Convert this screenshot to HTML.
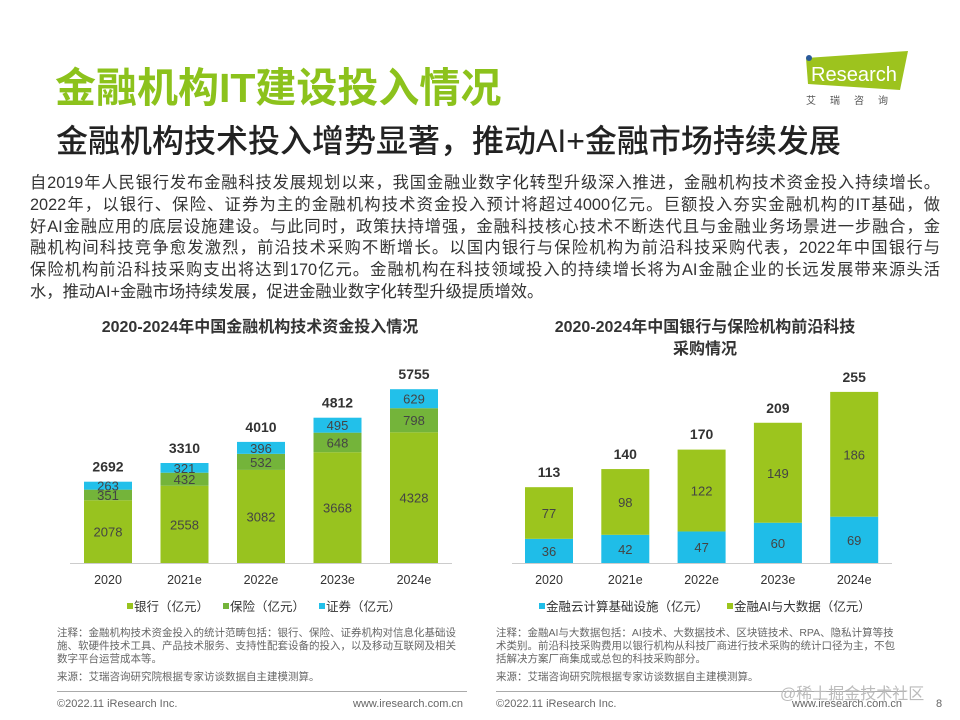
<!DOCTYPE html>
<html><head><meta charset="utf-8">
<style>
body{margin:0;width:960px;height:720px;background:#fff;font-family:"Liberation Sans","Noto Sans CJK SC",sans-serif;position:relative;overflow:hidden;color:#333}
.abs{position:absolute}
.p{left:30px;width:910px;font-size:16.3px;line-height:21.8px;color:#333}
.p div{text-align:justify;text-align-last:justify;height:21.8px;white-space:nowrap}
.p div.last{text-align-last:left}
.ct{font-weight:bold;font-size:16px;color:#333;text-align:center;line-height:22px}
.note{font-size:10.5px;color:#666;line-height:13px}
.foot{font-size:11px;color:#666}
</style></head><body>
<div class="abs" style="left:55px;top:54px;font-size:41px;color:#8cc21c;font-weight:bold">金融机构IT建设投入情况</div>
<div class="abs" style="left:56px;top:116px;font-size:32px;color:#222;font-weight:500">金融机构技术投入增势显著，推动AI+金融市场持续发展</div>
<svg class="abs" style="left:790px;top:48px" width="130" height="60">
<polygon points="16,10 118,3 110,42 18,36" fill="#9dc31e"/>
<circle cx="19" cy="10" r="3" fill="#2a5a9a"/>
<text x="21" y="33" font-size="20" fill="#fff" font-family="Liberation Sans" textLength="86" lengthAdjust="spacingAndGlyphs">Research</text>
<text x="16" y="56" font-size="10" fill="#555" letter-spacing="14" font-family="Noto Sans CJK SC">艾瑞咨询</text>
</svg>
<div class="abs p" style="top:173px">
<div>自2019年人民银行发布金融科技发展规划以来，我国金融业数字化转型升级深入推进，金融机构技术资金投入持续增长。</div>
<div>2022年，以银行、保险、证券为主的金融机构技术资金投入预计将超过4000亿元。巨额投入夯实金融机构的IT基础，做</div>
<div>好AI金融应用的底层设施建设。与此同时，政策扶持增强，金融科技核心技术不断迭代且与金融业务场景进一步融合，金</div>
<div>融机构间科技竞争愈发激烈，前沿技术采购不断增长。以国内银行与保险机构为前沿科技采购代表，2022年中国银行与</div>
<div>保险机构前沿科技采购支出将达到170亿元。金融机构在科技领域投入的持续增长将为AI金融企业的长远发展带来源头活</div>
<div class="last">水，推动AI+金融市场持续发展，促进金融业数字化转型升级提质增效。</div>
</div>
<div class="abs ct" style="left:40px;width:440px;top:317px">2020-2024年中国金融机构技术资金投入情况</div>
<div class="abs ct" style="left:490px;width:430px;top:317px">2020-2024年中国银行与保险机构前沿科技<br>采购情况</div>
<svg id="chart" class="abs" style="left:0;top:0" width="960" height="720"></svg>
<div class="abs note" style="left:57px;top:627px;width:408px">注释：金融机构技术资金投入的统计范畴包括：银行、保险、证券机构对信息化基础设施、软硬件技术工具、产品技术服务、支持性配套设备的投入，以及移动互联网及相关数字平台运营成本等。<div style="margin-top:5px">来源：艾瑞咨询研究院根据专家访谈数据自主建模测算。</div></div>
<div class="abs note" style="left:496px;top:627px;width:408px">注释：金融AI与大数据包括：AI技术、大数据技术、区块链技术、RPA、隐私计算等技术类别。前沿科技采购费用以银行机构从科技厂商进行技术采购的统计口径为主，不包括解决方案厂商集成或总包的科技采购部分。<div style="margin-top:5px">来源：艾瑞咨询研究院根据专家访谈数据自主建模测算。</div></div>
<div class="abs" style="left:57px;top:691px;width:410px;height:1px;background:#aaa"></div>
<div class="abs" style="left:496px;top:691px;width:410px;height:1px;background:#aaa"></div>
<div class="abs foot" style="left:57px;top:698px">©2022.11 iResearch Inc.</div>
<div class="abs foot" style="left:353px;top:698px">www.iresearch.com.cn</div>
<div class="abs foot" style="left:496px;top:698px">©2022.11 iResearch Inc.</div>
<div class="abs foot" style="left:792px;top:698px">www.iresearch.com.cn</div>
<div class="abs foot" style="left:936px;top:698px">8</div>
<div class="abs" style="left:780px;top:680px;font-size:16px;color:#bbb">@稀土掘金技术社区</div>
<script>
const years=["2020","2021e","2022e","2023e","2024e"];
const bank=[2078,2558,3082,3668,4328];
const insurance=[351,432,532,648,798];
const securities=[263,321,396,495,629];
const totalsL=[2692,3310,4010,4812,5755];
const cloud=[36,42,47,60,69];
const aiData=[77,98,122,149,186];
const totalsR=[113,140,170,209,255];
const NS="http://www.w3.org/2000/svg";
const svg=document.getElementById('chart');
function mk(t,a,txt){const e=document.createElementNS(NS,t);for(const k in a)e.setAttribute(k,a[k]);if(txt!==undefined)e.textContent=txt;svg.appendChild(e);return e;}
function drawChart(cfg){
  const base=563;
  const x=i=>cfg.x0+i*cfg.step;
  const y=v=>v*cfg.scale;
  const ax=mk('line',{x1:cfg.ax0,x2:cfg.ax1,y1:base+0.5,y2:base+0.5,stroke:'#ccc','stroke-width':1});
  
  
  years.forEach((yr,i)=>{
    let cum=0;
    cfg.series.forEach(s=>{
      const v=s.data[i];const h=y(v);const top=base-y(cum)-h;
      const r=mk('rect',{x:x(i)-24,y:top,width:48,height:h,fill:s.color});
      
      
      const t=mk('text',{x:x(i),y:top+h/2+5,'text-anchor':'middle','font-size':13,fill:'#444'},v);
      
      
      cum+=v;
    });
    const tt=mk('text',{x:x(i),y:base-y(cfg.totals[i])-10,'text-anchor':'middle','font-size':14,'font-weight':'bold',fill:'#333'},cfg.totals[i]);
    
    
    const xl=mk('text',{x:x(i),y:584,'text-anchor':'middle','font-size':12.5,fill:'#333'},yr);
    
    
  });
  cfg.legend.forEach(l=>{
    const r=mk('rect',{x:l.x,y:603,width:6,height:6,fill:l.color});
    
    
    const t=mk('text',{x:l.x+7,y:611,'font-size':12.5,fill:'#333'},l.label);
    
    
  });
}
drawChart({name:'left',x0:108,step:76.5,scale:0.0302,ax0:70,ax1:452,totals:totalsL,
  series:[{key:'bank',data:bank,color:'#98c31f'},{key:'insurance',data:insurance,color:'#74b43a'},{key:'securities',data:securities,color:'#22c0ea'}],
  legend:[{key:'bank',x:127,color:'#98c31f',label:'银行（亿元）'},{key:'insurance',x:223,color:'#74b43a',label:'保险（亿元）'},{key:'securities',x:319,color:'#22c0ea',label:'证券（亿元）'}]});
drawChart({name:'right',x0:549,step:76.3,scale:0.671,ax0:512,ax1:892,totals:totalsR,
  series:[{key:'cloud',data:cloud,color:'#1fbde8'},{key:'ai-data',data:aiData,color:'#9cc51e'}],
  legend:[{key:'cloud',x:539,color:'#1fbde8',label:'金融云计算基础设施（亿元）'},{key:'ai-data',x:727,color:'#9cc51e',label:'金融AI与大数据（亿元）'}]});
</script>
</body></html>
